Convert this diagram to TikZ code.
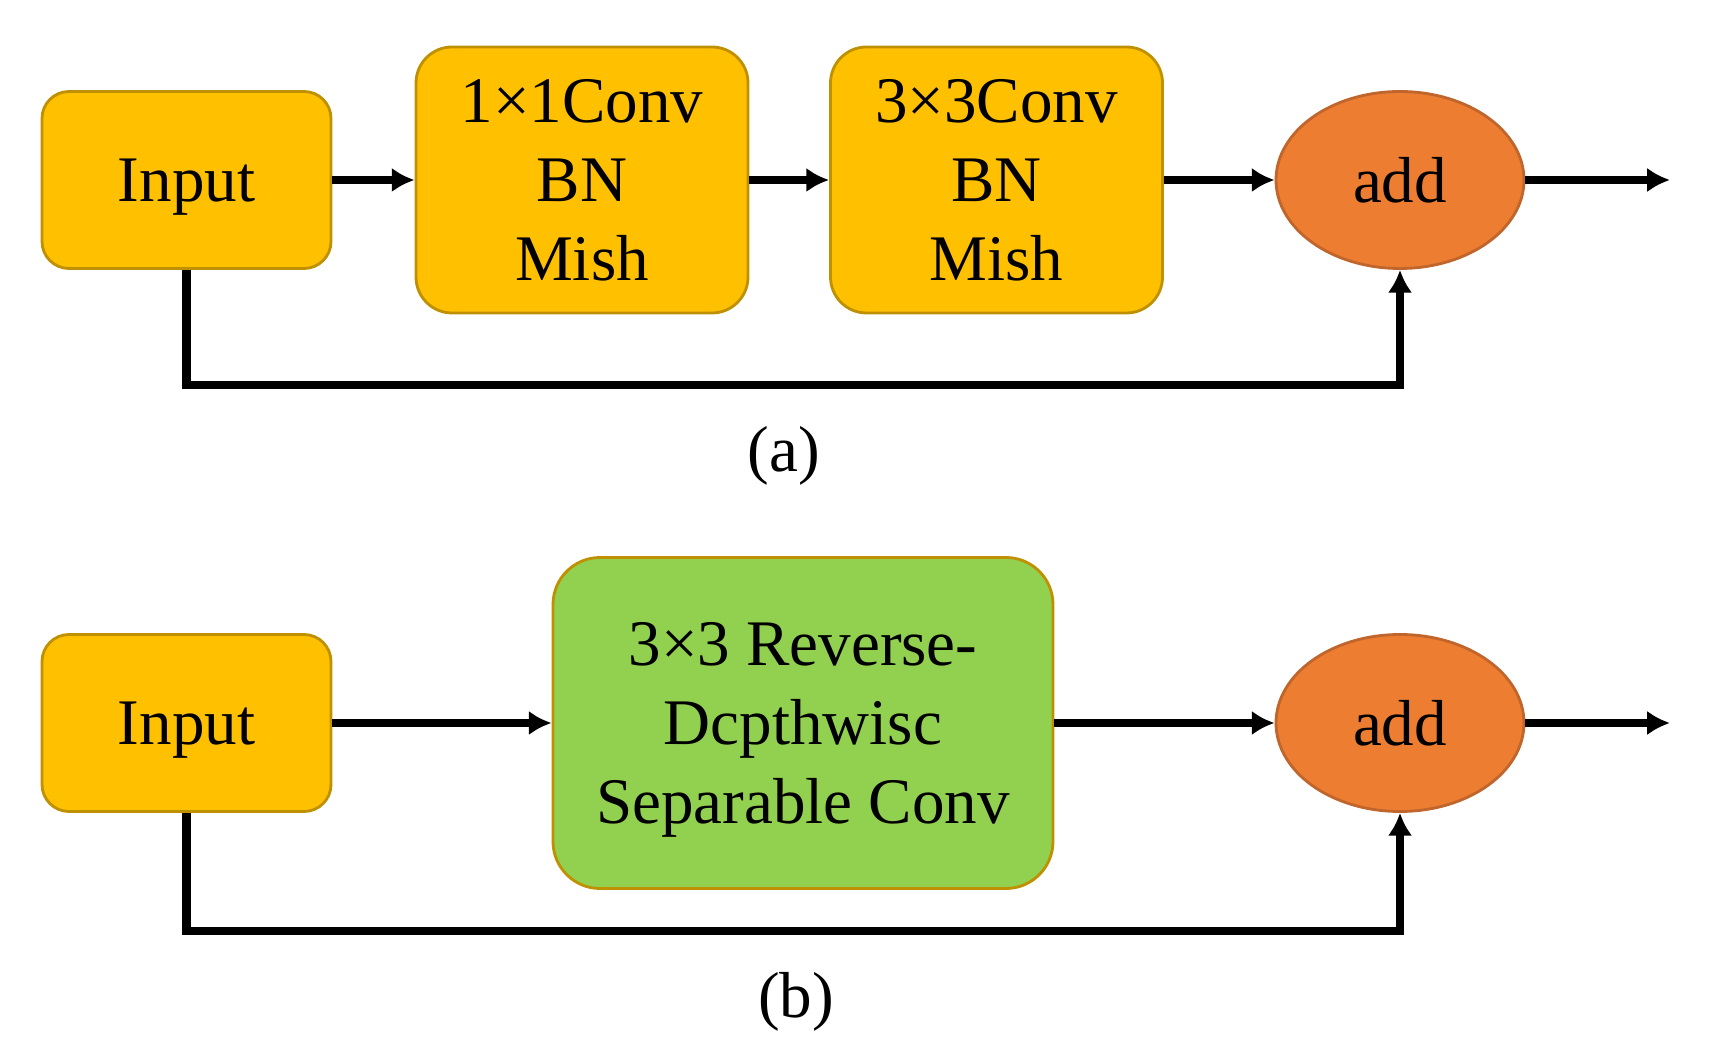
\documentclass[tikz,border=0pt]{standalone}
\usepackage{fontspec}
\setmainfont{Liberation Serif}
\usetikzlibrary{shapes.geometric,arrows.meta}
\definecolor{gold}{HTML}{FFC000}
\definecolor{goldedge}{HTML}{BF9000}
\definecolor{leaf}{HTML}{92D050}
\definecolor{carrot}{HTML}{ED7D31}
\definecolor{carrotedge}{HTML}{C0652B}
\begin{document}
\begin{tikzpicture}[font=\fontsize{18.5pt}{22.5pt}\selectfont,
  blk/.style={draw=goldedge,line width=0.8pt,fill=gold,align=center,inner sep=0pt,text depth=0pt},
  sum/.style={ellipse,draw=carrotedge,line width=0.8pt,fill=carrot,inner sep=0pt,minimum width=2.48cm,minimum height=1.77cm},
  flow/.style={line width=2.3pt,-{Latex[length=6.5pt,width=7pt]}}]
\useasboundingbox (0,0) rectangle (17.14,10.62);
% (a)
\node[blk,rounded corners=0.27cm,minimum width=2.89cm,minimum height=1.77cm](inA) at (1.865,8.82){Input};
\node[blk,rounded corners=0.36cm,minimum width=3.32cm,minimum height=2.66cm](convA) at (5.82,8.82){1×1Conv\\BN\\Mish};
\node[blk,rounded corners=0.36cm,minimum width=3.32cm,minimum height=2.66cm](convB) at (9.965,8.82){3×3Conv\\BN\\Mish};
\node[sum](addA) at (14.0,8.82){add};
\coordinate (outA) at (16.70,8.82);
\coordinate (lowA) at (0,6.77);
\draw[flow](inA)--(convA);
\draw[flow](convA)--(convB);
\draw[flow](convB)--(addA);
\draw[flow](addA)--(outA);
\draw[flow](inA.south)|-(lowA -| addA.south)--(addA.south);
\node(capA) at (7.84,6.06){(a)};
% (b)
\node[blk,rounded corners=0.27cm,minimum width=2.89cm,minimum height=1.77cm](inB) at (1.865,3.39){Input};
\node[blk,fill=leaf,rounded corners=0.47cm,minimum width=5.0cm,minimum height=3.31cm](rdsc) at (8.03,3.39){3×3 Reverse-\\Dcpthwisc\\Separable Conv};
\node[sum](addB) at (14.0,3.39){add};
\coordinate (outB) at (16.70,3.39);
\coordinate (lowB) at (0,1.31);
\draw[flow](inB)--(rdsc);
\draw[flow](rdsc)--(addB);
\draw[flow](addB)--(outB);
\draw[flow](inB.south)|-(lowB -| addB.south)--(addB.south);
\node(capB) at (7.96,0.60){(b)};
\end{tikzpicture}
\end{document}
